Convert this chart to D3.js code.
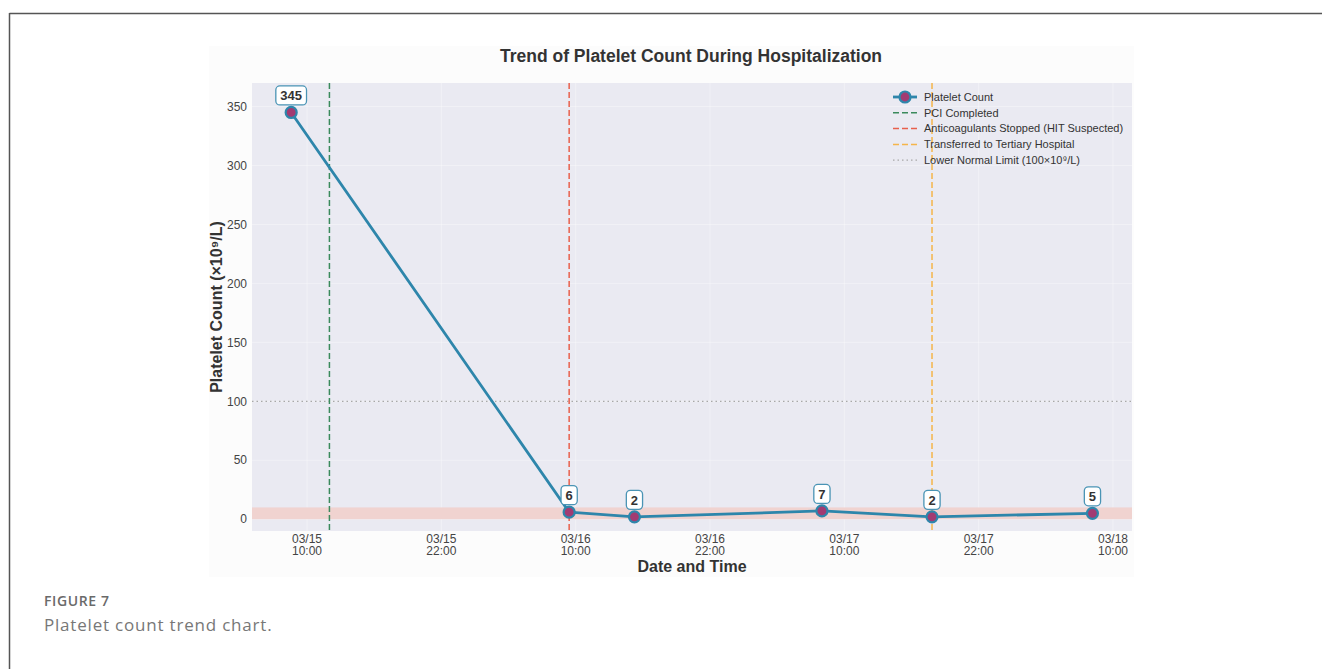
<!DOCTYPE html>
<html>
<head>
<meta charset="utf-8">
<script src="https://cdn.jsdelivr.net/npm/d3@7"></script>
<style>
  html, body { margin: 0; padding: 0; background: #ffffff; }
  svg { display: block; }
</style>
</head>
<body>
<svg id="chart" width="1322" height="669"></svg>
<script>
// ---------------- data ----------------
const measureTimes = ["2024-03-15 08:35", "2024-03-16 09:25", "2024-03-16 15:15", "2024-03-17 08:00", "2024-03-17 17:50", "2024-03-18 08:10"];
const plateletValues = [345, 6, 2, 7, 2, 5];

const eventTimes = ["2024-03-15 12:00", "2024-03-16 09:25", "2024-03-17 17:50"];
const eventLabels = ["PCI Completed", "Anticoagulants Stopped (HIT Suspected)", "Transferred to Tertiary Hospital"];
const eventColors = ["#3a8a5c", "#e8604c", "#f5b54a"];

const xTickTimes = ["2024-03-15 10:00", "2024-03-15 22:00", "2024-03-16 10:00", "2024-03-16 22:00", "2024-03-17 10:00", "2024-03-17 22:00", "2024-03-18 10:00"];
const yTicks = [0, 50, 100, 150, 200, 250, 300, 350];
const xDomain = ["2024-03-15 05:05", "2024-03-18 11:42"];
const yDomain = [-10, 370];

const lowerNormal = 100;
const severeBand = [0, 10];

const titleText = "Trend of Platelet Count During Hospitalization";
const xLabel = "Date and Time";
const yLabel = "Platelet Count (×10⁹/L)";
const seriesLabel = "Platelet Count";
const limitLabel = "Lower Normal Limit (100×10⁹/L)";

// ---------------- setup ----------------
const parse = d3.timeParse("%Y-%m-%d %H:%M");
const fmtDate = d3.timeFormat("%m/%d");
const fmtTime = d3.timeFormat("%H:%M");

const svg = d3.select("#chart");
const font = "'Liberation Sans', Arial, sans-serif";

const plot = { left: 252, right: 1132, top: 83, bottom: 531 };

// outer frame
svg.append("line").attr("x1", 9.5).attr("x2", 1322).attr("y1", 13.5).attr("y2", 13.5)
  .attr("stroke", "#555").attr("stroke-width", 1.5);
svg.append("line").attr("x1", 9.5).attr("x2", 9.5).attr("y1", 13).attr("y2", 669)
  .attr("stroke", "#555").attr("stroke-width", 1.5);

// figure background (subtle)
svg.append("rect").attr("x", 209).attr("y", 46).attr("width", 925).attr("height", 531)
  .attr("fill", "#fcfcfc");

const x = d3.scaleTime().domain(xDomain.map(parse)).range([plot.left, plot.right]);
const y = d3.scaleLinear().domain(yDomain).range([plot.bottom, plot.top]);

const g = svg.append("g");

// plot background
g.append("rect").attr("x", plot.left).attr("y", plot.top)
  .attr("width", plot.right - plot.left).attr("height", plot.bottom - plot.top)
  .attr("fill", "#eaeaf2");

// grid
const xTicks = xTickTimes.map(parse);
g.append("g").selectAll("line").data(yTicks).join("line")
  .attr("x1", plot.left).attr("x2", plot.right)
  .attr("y1", d => y(d)).attr("y2", d => y(d))
  .attr("stroke", "#ffffff").attr("stroke-opacity", 0.35).attr("stroke-width", 1);
g.append("g").selectAll("line").data(xTicks).join("line")
  .attr("y1", plot.top).attr("y2", plot.bottom)
  .attr("x1", d => x(d)).attr("x2", d => x(d))
  .attr("stroke", "#ffffff").attr("stroke-opacity", 0.35).attr("stroke-width", 1);

// severe band
g.append("rect").attr("x", plot.left).attr("width", plot.right - plot.left)
  .attr("y", y(severeBand[1])).attr("height", y(severeBand[0]) - y(severeBand[1]))
  .attr("fill", "#f0d3d0");

// lower normal limit
g.append("line").attr("x1", plot.left).attr("x2", plot.right)
  .attr("y1", y(lowerNormal)).attr("y2", y(lowerNormal))
  .attr("stroke", "#a8a8a8").attr("stroke-width", 1.3).attr("stroke-dasharray", "1.5,3");

// event lines
g.append("g").selectAll("line").data(eventTimes.map(parse)).join("line")
  .attr("x1", d => x(d)).attr("x2", d => x(d))
  .attr("y1", plot.top).attr("y2", plot.bottom)
  .attr("stroke", (d, i) => eventColors[i]).attr("stroke-width", 1.5)
  .attr("stroke-dasharray", "6,3");

// series
const pts = measureTimes.map((t, i) => ({ t: parse(t), v: plateletValues[i] }));
g.append("path").datum(pts)
  .attr("d", d3.line().x(d => x(d.t)).y(d => y(d.v)))
  .attr("fill", "none").attr("stroke", "#2e86ab").attr("stroke-width", 2.8)
  .attr("stroke-linejoin", "round");
g.append("g").selectAll("circle").data(pts).join("circle")
  .attr("cx", d => x(d.t)).attr("cy", d => y(d.v)).attr("r", 5.5)
  .attr("fill", "#a23b72").attr("stroke", "#2e86ab").attr("stroke-width", 2.2);

// value labels
const lab = g.append("g").selectAll("g").data(pts).join("g")
  .attr("transform", d => `translate(${x(d.t)},${y(d.v) - 17})`);
lab.append("text").text(d => d.v)
  .attr("text-anchor", "middle").attr("dy", "0.36em")
  .attr("font-family", font).attr("font-weight", "bold").attr("font-size", 13)
  .attr("fill", "#333");
lab.each(function () {
  const sel = d3.select(this);
  const bb = sel.select("text").node().getBBox();
  sel.insert("rect", "text")
    .attr("x", bb.x - 4.5).attr("y", -9.5).attr("width", bb.width + 9).attr("height", 19)
    .attr("rx", 4).attr("fill", "#ffffff").attr("stroke", "#4a94b5").attr("stroke-width", 1.3);
});

// y tick labels
svg.append("g").selectAll("text").data(yTicks).join("text")
  .attr("x", 247).attr("y", d => y(d)).attr("dy", "0.35em")
  .attr("text-anchor", "end").attr("font-family", font).attr("font-size", 12)
  .attr("fill", "#444").text(d => d);

// x tick labels
const xt = svg.append("g").selectAll("text").data(xTicks).join("text")
  .attr("text-anchor", "middle").attr("font-family", font).attr("font-size", 12)
  .attr("fill", "#444");
xt.append("tspan").attr("x", d => x(d)).attr("y", 543).text(d => fmtDate(d));
xt.append("tspan").attr("x", d => x(d)).attr("y", 555).text(d => fmtTime(d));

// axis labels
svg.append("text").attr("x", (plot.left + plot.right) / 2).attr("y", 572)
  .attr("text-anchor", "middle").attr("font-family", font).attr("font-weight", "bold")
  .attr("font-size", 16).attr("fill", "#333").text(xLabel);
svg.append("text").attr("transform", `translate(222,${(plot.top + plot.bottom) / 2}) rotate(-90)`)
  .attr("text-anchor", "middle").attr("font-family", font).attr("font-weight", "bold")
  .attr("font-size", 16).attr("fill", "#333").text(yLabel);

// title
svg.append("text").attr("x", 691).attr("y", 62)
  .attr("text-anchor", "middle").attr("font-family", font).attr("font-weight", "bold")
  .attr("font-size", 17.5).attr("fill", "#333").text(titleText);

// legend
const legItems = [
  { label: seriesLabel, type: "series" },
  ...eventLabels.map((l, i) => ({ label: l, type: "event", color: eventColors[i] })),
  { label: limitLabel, type: "limit" }
];
const leg = svg.append("g").selectAll("g").data(legItems).join("g")
  .attr("transform", (d, i) => `translate(893,${97 + i * 15.8})`);
leg.each(function (d) {
  const s = d3.select(this);
  if (d.type === "series") {
    s.append("line").attr("x1", 0).attr("x2", 24).attr("stroke", "#2e86ab").attr("stroke-width", 2.8);
    s.append("circle").attr("cx", 12).attr("r", 5.5).attr("fill", "#a23b72")
      .attr("stroke", "#2e86ab").attr("stroke-width", 2.2);
  } else if (d.type === "event") {
    s.append("line").attr("x1", 0).attr("x2", 24).attr("stroke", d.color)
      .attr("stroke-width", 1.5).attr("stroke-dasharray", "6,3");
  } else {
    s.append("line").attr("x1", 0).attr("x2", 24).attr("stroke", "#a8a8a8")
      .attr("stroke-width", 1.3).attr("stroke-dasharray", "1.5,3");
  }
  s.append("text").attr("x", 31).attr("dy", "0.35em").attr("font-family", font)
    .attr("font-size", 11).attr("fill", "#333").text(d.label);
});

// caption
svg.append("text").attr("x", 44).attr("y", 606).attr("font-family", "'Open Sans', Lato, sans-serif")
  .attr("font-weight", 600).attr("font-size", 14).attr("letter-spacing", 0.6)
  .attr("fill", "#6a6a6a").text("FIGURE 7");
svg.append("text").attr("x", 44).attr("y", 631).attr("font-family", "'Open Sans', Lato, sans-serif")
  .attr("font-size", 17).attr("letter-spacing", 0.8).attr("fill", "#777").text("Platelet count trend chart.");
</script>
</body>
</html>
